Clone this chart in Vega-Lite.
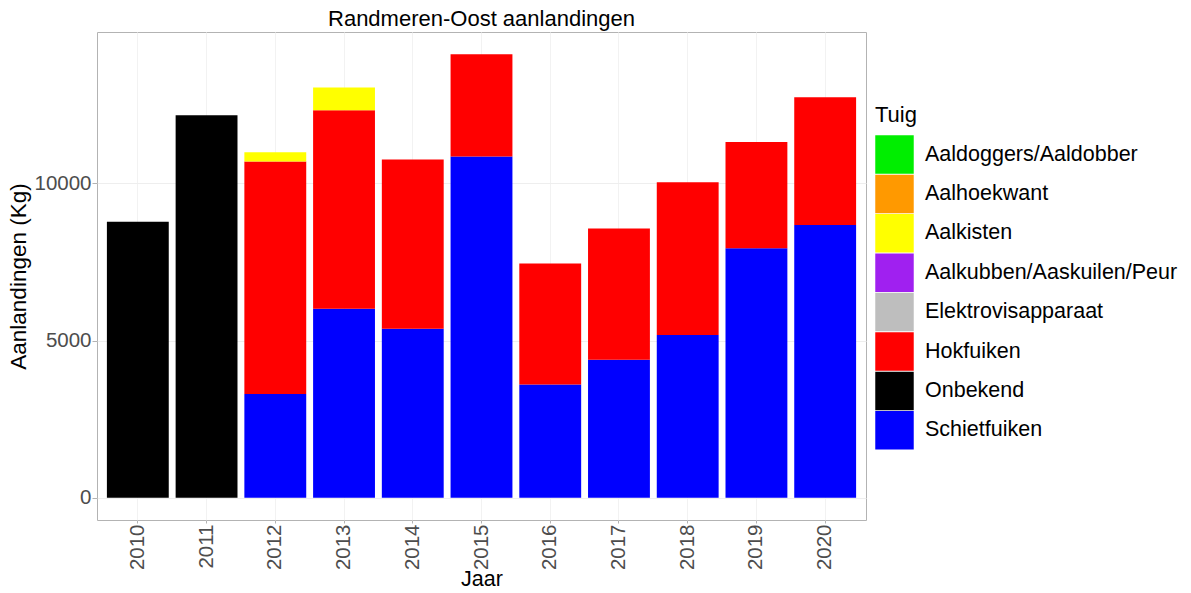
{
  "$schema": "https://vega.github.io/schema/vega-lite/v6.json",
  "autosize": {"type": "none"},
  "width": 769,
  "height": 488,
  "padding": {"left": 97, "top": 32, "right": 325, "bottom": 73},
  "background": "white",
  "title": {"text": "Randmeren-Oost aanlandingen", "anchor": "middle", "fontSize": 22, "font": "Liberation Sans", "fontWeight": "normal", "color": "#000000", "offset": 1},
  "data": {"values": [
    {"Jaar": "2010", "Tuig": "Onbekend", "Kg": 8780},
    {"Jaar": "2011", "Tuig": "Onbekend", "Kg": 12170},
    {"Jaar": "2012", "Tuig": "Schietfuiken", "Kg": 3300},
    {"Jaar": "2012", "Tuig": "Hokfuiken", "Kg": 7400},
    {"Jaar": "2012", "Tuig": "Aalkisten", "Kg": 290},
    {"Jaar": "2013", "Tuig": "Schietfuiken", "Kg": 6010},
    {"Jaar": "2013", "Tuig": "Hokfuiken", "Kg": 6320},
    {"Jaar": "2013", "Tuig": "Aalkisten", "Kg": 720},
    {"Jaar": "2014", "Tuig": "Schietfuiken", "Kg": 5375},
    {"Jaar": "2014", "Tuig": "Hokfuiken", "Kg": 5385},
    {"Jaar": "2015", "Tuig": "Schietfuiken", "Kg": 10855},
    {"Jaar": "2015", "Tuig": "Hokfuiken", "Kg": 3255},
    {"Jaar": "2016", "Tuig": "Schietfuiken", "Kg": 3605},
    {"Jaar": "2016", "Tuig": "Hokfuiken", "Kg": 3845},
    {"Jaar": "2017", "Tuig": "Schietfuiken", "Kg": 4390},
    {"Jaar": "2017", "Tuig": "Hokfuiken", "Kg": 4175},
    {"Jaar": "2018", "Tuig": "Schietfuiken", "Kg": 5175},
    {"Jaar": "2018", "Tuig": "Hokfuiken", "Kg": 4865},
    {"Jaar": "2019", "Tuig": "Schietfuiken", "Kg": 7940},
    {"Jaar": "2019", "Tuig": "Hokfuiken", "Kg": 3380},
    {"Jaar": "2020", "Tuig": "Schietfuiken", "Kg": 8680},
    {"Jaar": "2020", "Tuig": "Hokfuiken", "Kg": 4060}
  ]},
  "mark": {"type": "bar"},
  "encoding": {
    "x": {
      "field": "Jaar", "type": "ordinal", "title": "Jaar",
      "scale": {"paddingInner": 0.1, "paddingOuter": 0.144},
      "axis": {"labelAngle": -90, "labelAlign": "right", "labelBaseline": "middle", "labelFontSize": 20.5, "labelColor": "#4D4D4D", "labelFont": "Liberation Sans", "labelPadding": 1,
               "tickColor": "#B3B3B3", "tickSize": 3, "domain": false, "grid": true, "gridColor": "#F2F2F2", "gridWidth": 1,
               "titleFontSize": 21.5, "titleFont": "Liberation Sans", "titleFontWeight": "normal", "titleColor": "#000000", "titlePadding": -1}
    },
    "y": {
      "field": "Kg", "type": "quantitative", "aggregate": "sum", "title": "Aanlandingen (Kg)", "stack": "zero",
      "scale": {"domain": [-705, 14815], "nice": false, "zero": false},
      "axis": {"values": [0, 5000, 10000], "format": "d", "labelFontSize": 20.5, "labelColor": "#4D4D4D", "labelFont": "Liberation Sans", "labelPadding": 1,
               "tickColor": "#B3B3B3", "tickSize": 5, "domain": false, "grid": true, "gridColor": "#EEEEEE", "gridWidth": 1,
               "titleFontSize": 22.5, "titleFont": "Liberation Sans", "titleFontWeight": "normal", "titleColor": "#000000", "titlePadding": 3}
    },
    "color": {
      "field": "Tuig", "type": "nominal", "title": "Tuig",
      "scale": {
        "domain": ["Aaldoggers/Aaldobber", "Aalhoekwant", "Aalkisten", "Aalkubben/Aaskuilen/Peur", "Elektrovisapparaat", "Hokfuiken", "Onbekend", "Schietfuiken"],
        "range": ["#00EE00", "#FF9900", "#FFFF00", "#A020F0", "#BEBEBE", "#FF0000", "#000000", "#0000FF"]
      },
      "legend": {
        "orient": "none", "legendX": 778, "legendY": 73, "padding": 0,
        "symbolType": "square", "symbolSize": 1480, "symbolStrokeWidth": 0, "symbolOpacity": 1,
        "rowPadding": 0.4, "labelOffset": 11, "labelFontSize": 21.5, "labelFont": "Liberation Sans", "labelColor": "#000000", "labelLimit": 400,
        "titleFontSize": 22, "titleFont": "Liberation Sans", "titleFontWeight": "normal", "titleColor": "#000000", "titlePadding": 8
      }
    },
    "order": {"field": "Tuig", "sort": "descending"}
  },
  "config": {
    "view": {"stroke": "#B3B3B3", "strokeWidth": 1},
    "axis": {"gridDash": []}
  }
}
